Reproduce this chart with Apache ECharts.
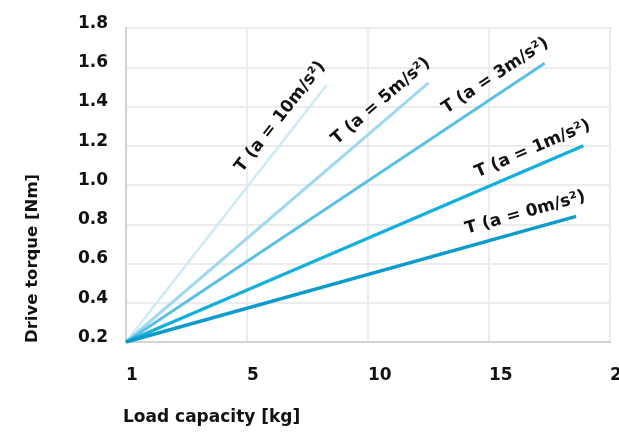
<!DOCTYPE html>
<html><head><meta charset="utf-8">
<script src="https://cdn.jsdelivr.net/npm/echarts@6/dist/echarts.min.js"></script>
<style>html,body{margin:0;padding:0;background:#fff}#c{width:619px;height:435px}</style>
</head><body><div id="c"></div>
<script>
// Data (x in axis units: first tick labelled "1")
const xTickValues = [0, 5, 10, 15, 20];
const xTickLabels = ['1', '5', '10', '15', '20'];
const yTickValues = [0.2, 0.4, 0.6, 0.8, 1.0, 1.2, 1.4, 1.6, 1.8];
const seriesNames = ['T (a = 0m/s²)', 'T (a = 1m/s²)', 'T (a = 3m/s²)', 'T (a = 5m/s²)', 'T (a = 10m/s²)'];
const startX = [0, 0, 0, 0, 0];
const startY = [0.2, 0.2, 0.2, 0.2, 0.2];
const endX = [18.6, 18.9, 17.3, 12.5, 8.3];
const endY = [0.84, 1.20, 1.62, 1.52, 1.51];
const xAxisName = 'Load capacity [kg]';
const yAxisName = 'Drive torque [Nm]';

const colors = ['#0d9bcc', '#12afdd', '#5dc0e2', '#9fd8ef', '#cfebf6'];
const widths = [3.4, 3.2, 3, 3, 2.6];
const FONT = '"DejaVu Sans", sans-serif';
const TXT = '#111111';

const chart = echarts.init(document.getElementById('c'), null, {renderer: 'canvas'});
const series = seriesNames.map((n, i) => ({
  name: n, type: 'line', showSymbol: false, silent: true,
  data: [[startX[i], startY[i]], [endX[i], endY[i]]],
  lineStyle: {color: colors[i], width: widths[i], cap: 'butt'},
  z: 10 - i
}));

chart.setOption({
  animation: false,
  grid: {left: 126, right: 9, top: 28, bottom: 93, show: true, borderColor: '#d3d3d3', borderWidth: 2,
         containLabel: false, outerBoundsMode: 'none'},
  xAxis: {
    type: 'value', min: 0, max: 20, interval: 5,
    axisLine: {show: true, lineStyle: {color: '#d3d3d3', width: 2}},
    axisTick: {show: false},
    splitLine: {show: true, lineStyle: {color: '#ececec', width: 2}},
    axisLabel: {
      color: TXT, fontFamily: FONT, fontWeight: 'bold', fontSize: 17, margin: 25, align: 'left',
      showMaxLabel: true, hideOverlap: false,
      formatter: v => { const k = xTickValues.indexOf(v); return k >= 0 ? xTickLabels[k] : ''; }
    }
  },
  yAxis: {
    type: 'value', min: 0.2, max: 1.8, interval: 0.2,
    axisLine: {show: true, lineStyle: {color: '#d3d3d3', width: 2}},
    axisTick: {show: false},
    splitLine: {show: true, lineStyle: {color: '#ececec', width: 2}},
    axisLabel: {
      color: TXT, fontFamily: FONT, fontWeight: 'bold', fontSize: 17, margin: 18,
      verticalAlign: 'bottom', lineHeight: 9,
      formatter: v => { const k = yTickValues.findIndex(t => Math.abs(t - v) < 1e-6); return k >= 0 ? yTickValues[k].toFixed(1) : ''; }
    }
  },
  series: series
});

const graphics = [];
seriesNames.forEach((n, i) => {
  const p0 = chart.convertToPixel({gridIndex: 0}, [startX[i], startY[i]]);
  const p1 = chart.convertToPixel({gridIndex: 0}, [endX[i], endY[i]]);
  const dx = p1[0] - p0[0], dy = p0[1] - p1[1];
  const len = Math.hypot(dx, dy);
  const ux = dx / len, uy = -dy / len;     // along line (screen)
  const nx = uy, ny = -ux;                  // perpendicular, upward-left
  const e = 14, d = 17;
  graphics.push({
    type: 'text', silent: true, z: 100,
    x: p1[0] + ux * e + nx * d,
    y: p1[1] + uy * e + ny * d,
    rotation: Math.atan2(dy, dx),
    style: {text: n, fill: TXT, font: 'bold 17px ' + FONT, align: 'right', verticalAlign: 'middle', textAlign: 'right', textVerticalAlign: 'middle'}
  });
});
const gb = chart.convertToPixel({gridIndex: 0}, [0, 0.2]);
graphics.push({
  type: 'text', silent: true, x: 33, y: gb[1] + 1, rotation: Math.PI / 2,
  style: {text: yAxisName, fill: TXT, font: 'bold 16.5px ' + FONT, align: 'left', verticalAlign: 'middle', textAlign: 'left', textVerticalAlign: 'middle'}
});
graphics.push({
  type: 'text', silent: true, x: gb[0] - 3, y: 418,
  style: {text: xAxisName, fill: TXT, font: 'bold 17px ' + FONT, align: 'left', verticalAlign: 'middle', textAlign: 'left', textVerticalAlign: 'middle'}
});
chart.setOption({graphic: graphics});
</script>
</body></html>
